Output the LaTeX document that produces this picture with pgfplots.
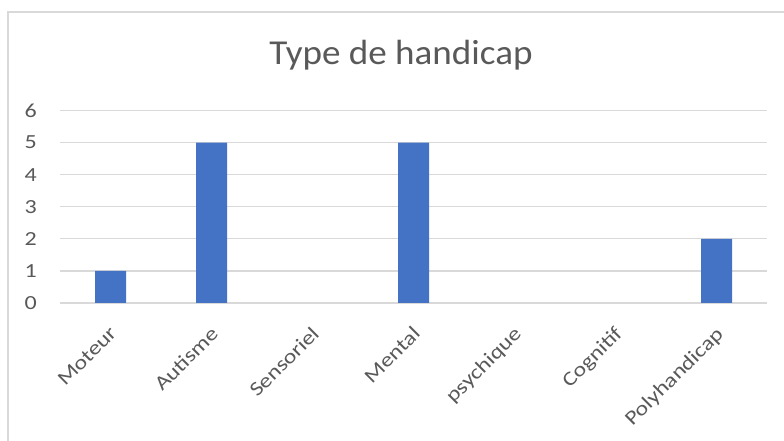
\documentclass[border=0pt]{standalone}
\usepackage{pgfplots}
\pgfplotsset{compat=1.18}
\usepackage{fontspec}
\setmainfont{Carlito}
\newfontfamily\tickfont[FakeStretch=1.2]{Carlito}
\newfontfamily\titlefont[FakeStretch=1.06]{Carlito}
\definecolor{barblue}{HTML}{4472C4}
\definecolor{gridgray}{HTML}{D9D9D9}
\definecolor{txtgray}{HTML}{595959}
\begin{document}
\begin{tikzpicture}[x=1bp,y=1bp]
\useasboundingbox (0,0) rectangle (784,441);
\fill[white] (0,0) rectangle (784,441);
\draw[gridgray, line width=1.2bp] (8,0) -- (8,429) -- (784,429);
\node[anchor=base, font=\titlefont\fontsize{35bp}{40bp}\selectfont, text=txtgray, inner sep=0pt] at (401,376) {Type de handicap};
\begin{axis}[
  at={(60bp,138bp)}, anchor=south west,
  scale only axis, width=707bp, height=192.5bp,
  xmin=-0.5, xmax=6.5, ymin=0, ymax=6,
  ybar, bar width=31bp,
  axis line style={draw=none},
  major tick length=0pt,
  ymajorgrids, grid style={gridgray, line width=1.2bp},
  xtick={0,...,6},
  xticklabels={Moteur,Autisme,Sensoriel,Mental,psychique,Cognitif,Polyhandicap},
  ytick={0,...,6},
  /pgf/number format/assume math mode=true,
  ticklabel style={font=\tickfont\fontsize{20bp}{24bp}\selectfont, text=txtgray},
  yticklabel style={anchor=east, inner sep=0pt, xshift=-23bp},
  xticklabel style={xshift=-2bp, yshift=-22bp, rotate=45, anchor=north east, inner sep=0pt},
  clip=false,
]
\addplot[fill=barblue, draw=none] coordinates {(0,1) (1,5) (3,5) (6,2)};
\end{axis}
\end{tikzpicture}
\end{document}
